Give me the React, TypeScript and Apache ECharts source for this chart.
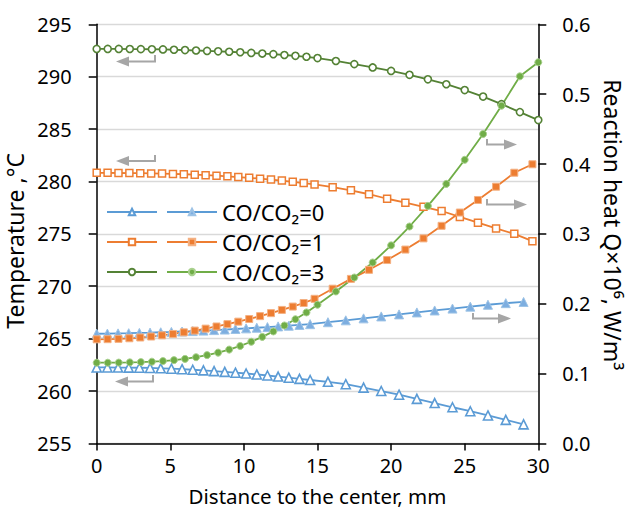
import { useEffect, useRef } from 'react';
import * as echarts from 'echarts';

// Radial positions (mm) for each case
const xCO0 = [0, 0.725, 1.45, 2.175, 2.9, 3.625, 4.35, 5.075, 5.8, 6.525, 7.25, 7.975, 8.7, 9.425, 10.15, 10.875, 11.6, 12.325, 13.05, 13.775, 14.5, 15.71, 16.92, 18.13, 19.33, 20.54, 21.75, 22.96, 24.17, 25.38, 26.58, 27.79, 29];
const xCO1 = [0, 0.74, 1.48, 2.22, 2.96, 3.7, 4.44, 5.18, 5.92, 6.66, 7.4, 8.14, 8.88, 9.62, 10.36, 11.1, 11.84, 12.58, 13.32, 14.06, 14.8, 16.03, 17.27, 18.5, 19.73, 20.97, 22.2, 23.43, 24.67, 25.9, 27.13, 28.37, 29.6];
const xCO3 = [0, 0.75, 1.5, 2.25, 3, 3.75, 4.5, 5.25, 6, 6.75, 7.5, 8.25, 9, 9.75, 10.5, 11.25, 12, 12.75, 13.5, 14.25, 15, 16.25, 17.5, 18.75, 20, 21.25, 22.5, 23.75, 25, 26.25, 27.5, 28.75, 30];

// Temperature, °C
const tempCO0 = [262.25, 262.25, 262.24, 262.23, 262.22, 262.2, 262.17, 262.13, 262.08, 262.03, 261.97, 261.9, 261.83, 261.75, 261.67, 261.58, 261.48, 261.38, 261.27, 261.16, 261.05, 260.88, 260.65, 260.32, 260.0, 259.65, 259.25, 258.85, 258.45, 258.07, 257.67, 257.25, 256.82];
const tempCO1 = [280.82, 280.82, 280.81, 280.8, 280.79, 280.77, 280.75, 280.72, 280.69, 280.65, 280.6, 280.55, 280.49, 280.42, 280.35, 280.27, 280.18, 280.08, 279.97, 279.85, 279.72, 279.45, 279.15, 278.78, 278.35, 277.97, 277.58, 277.18, 276.62, 276.07, 275.52, 275.0, 274.3];
const tempCO3 = [292.65, 292.65, 292.65, 292.64, 292.63, 292.62, 292.6, 292.57, 292.54, 292.5, 292.46, 292.42, 292.38, 292.33, 292.27, 292.21, 292.15, 292.07, 291.99, 291.9, 291.78, 291.5, 291.2, 290.88, 290.55, 290.18, 289.75, 289.28, 288.72, 288.1, 287.38, 286.62, 285.86];

// Reaction heat Q×10^6, W/m3
const heatCO0 = [0.157, 0.1572, 0.1575, 0.1578, 0.1582, 0.1586, 0.1591, 0.1596, 0.1602, 0.1608, 0.1615, 0.1622, 0.163, 0.1638, 0.1647, 0.1656, 0.1665, 0.1675, 0.1685, 0.1696, 0.1707, 0.1735, 0.1762, 0.179, 0.1818, 0.1847, 0.1875, 0.1903, 0.193, 0.1958, 0.1985, 0.2008, 0.2025];
const heatCO1 = [0.149, 0.1492, 0.1497, 0.1505, 0.1516, 0.153, 0.1547, 0.1567, 0.159, 0.1615, 0.1643, 0.1674, 0.1707, 0.1743, 0.1781, 0.1822, 0.1865, 0.1911, 0.1959, 0.201, 0.207, 0.2215, 0.2355, 0.2485, 0.2625, 0.2775, 0.2935, 0.3115, 0.3305, 0.3485, 0.3675, 0.3875, 0.3996];
const heatCO3 = [0.1155, 0.1155, 0.1157, 0.116, 0.1164, 0.117, 0.1179, 0.1192, 0.121, 0.1234, 0.1264, 0.13, 0.1343, 0.1395, 0.1455, 0.1525, 0.1603, 0.1688, 0.1778, 0.1875, 0.1985, 0.2175, 0.2375, 0.259, 0.2835, 0.3105, 0.34, 0.3715, 0.406, 0.443, 0.4835, 0.5255, 0.5456];

const legendLabels: Record<string, string> = { Q0: 'CO/CO₂=0', Q1: 'CO/CO₂=1', Q3: 'CO/CO₂=3' };

const FONT = 'Noto Sans';
const GRAY = '#A6A6A6';

const zip = (xs: number[], ys: number[]) => xs.map((x, i) => [x, ys[i]]);

function arrow(vx: number, vTop: number, y: number, tipX: number, dir: number) {
  const base = tipX - dir * 13;
  return [
    { type: 'polyline', shape: { points: [[vx, vTop], [vx, y], [base, y]] }, style: { stroke: GRAY, lineWidth: 2, fill: null } },
    { type: 'polygon', shape: { points: [[tipX, y], [base, y - 5], [base, y + 5]] }, style: { fill: GRAY } },
  ];
}

export default function App() {
  const ref = useRef<HTMLDivElement>(null);
  useEffect(() => {
    const chart = echarts.init(ref.current!, null, { renderer: 'svg' });
    const axisLineStyle = { color: '#000', width: 1.5 };
    const line = (name: string, xs: number[], ys: number[], yAxisIndex: number, symbol: string, size: number, fill: string, border: string, bw: number, lineColor: string) => ({
      name, type: 'line', yAxisIndex, data: zip(xs, ys), symbol, symbolSize: size,
      itemStyle: { color: fill, borderColor: border, borderWidth: bw },
      lineStyle: { color: lineColor, width: 1.8 },
      emphasis: { disabled: true },
    });
    chart.setOption({
      animation: false,
      textStyle: { fontFamily: FONT },
      grid: { left: 96.7, right: 92.7, top: 24.3, bottom: 72.6, outerBoundsMode: 'none' },
      xAxis: {
        type: 'value', min: 0, max: 30, interval: 5,
        axisLine: { show: true, lineStyle: axisLineStyle },
        axisTick: { show: true, length: 7, lineStyle: axisLineStyle },
        splitLine: { show: false },
        axisLabel: { fontSize: 20, color: '#000', margin: 12, fontFamily: FONT },
        name: 'Distance to the center, mm', nameLocation: 'middle', nameGap: 42,
        nameTextStyle: { fontSize: 20.5, color: '#000', fontFamily: FONT },
      },
      yAxis: [
        {
          type: 'value', min: 255, max: 295, interval: 5,
          axisLine: { show: true, lineStyle: axisLineStyle },
          axisTick: { show: true, length: 8, lineStyle: axisLineStyle },
          splitLine: { show: true, lineStyle: { color: '#D9D9D9', width: 1.3 } },
          axisLabel: { fontSize: 20, color: '#000', margin: 25, fontFamily: FONT },
          name: 'Temperature ,°C', nameLocation: 'middle', nameGap: 64,
          nameTextStyle: { fontSize: 23, color: '#000', fontFamily: FONT, padding: [0, 14, 0, 0] },
        },
        {
          type: 'value', min: 0, max: 0.6, interval: 0.1, position: 'right',
          axisLine: { show: true, lineStyle: axisLineStyle },
          axisTick: { show: true, length: 8, lineStyle: axisLineStyle },
          splitLine: { show: false },
          axisLabel: { fontSize: 20, color: '#000', margin: 24, fontFamily: FONT, formatter: (v: number) => v.toFixed(1) },
          name: 'Reaction heat Q×10⁶, W/m³', nameLocation: 'middle', nameGap: 61, nameRotate: -90,
          nameTextStyle: { fontSize: 23, color: '#000', fontFamily: FONT, padding: [0, 18, 0, 0] },
        },
      ],
      legend: [
        {
          left: 101, top: 196, orient: 'vertical', itemWidth: 50, itemHeight: 8, itemGap: 8,
          data: ['T0', 'T1', 'T3'], formatter: () => ' ', selectedMode: false,
          textStyle: { fontSize: 22, lineHeight: 21, fontFamily: FONT },
        },
        {
          left: 161, top: 196, orient: 'vertical', itemWidth: 50, itemHeight: 8, itemGap: 8,
          data: ['Q0', 'Q1', 'Q3'], formatter: (n: string) => legendLabels[n] ?? n, selectedMode: false,
          textStyle: { fontSize: 22, lineHeight: 21, color: '#000', fontFamily: FONT },
        },
      ],
      graphic: [
        ...arrow(155, 55, 61.5, 116, -1),
        ...arrow(155, 155, 161, 116, -1),
        ...arrow(153, 375, 381.5, 115, -1),
        ...arrow(487, 139, 144.5, 517, 1),
        ...arrow(487, 199, 204.5, 527, 1),
        ...arrow(473, 313, 318.5, 511, 1),
      ],
      series: [
        line('T0', xCO0, tempCO0, 0, 'triangle', 9, '#fff', '#5B9BD5', 1.6, '#5B9BD5'),
        line('T1', xCO1, tempCO1, 0, 'rect', 7, '#fff', '#ED7D31', 1.5, '#ED7D31'),
        line('T3', xCO3, tempCO3, 0, 'circle', 7, '#fff', '#548235', 1.6, '#548235'),
        line('Q0', xCO0, heatCO0, 1, 'triangle', 9, '#7DAEE0', '#9DC3E6', 1, '#5B9BD5'),
        line('Q1', xCO1, heatCO1, 1, 'rect', 7, '#ED7D31', '#F4B183', 1, '#ED7D31'),
        line('Q3', xCO3, heatCO3, 1, 'circle', 7, '#70AD47', '#A9D18E', 1, '#70AD47'),
      ],
    });
    return () => chart.dispose();
  }, []);
  return <div ref={ref} style={{ position: 'fixed', left: 0, top: 0, width: 631, height: 516, background: '#fff' }} />;
}
